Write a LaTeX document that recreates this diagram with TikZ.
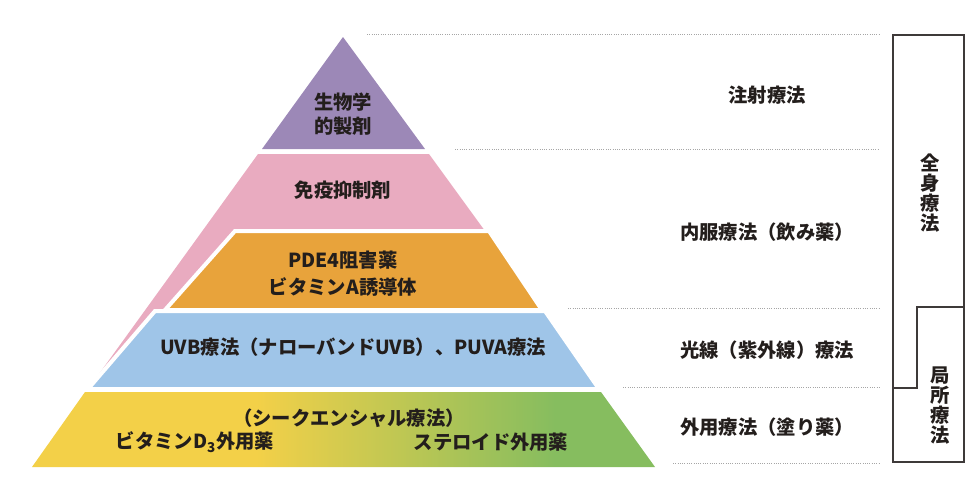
\documentclass[tikz,border=0pt]{standalone}
\usepackage{fontspec}
\setmainfont{Noto Sans CJK JP}
\usepackage{xcolor}

\definecolor{bandpurple}{RGB}{156,136,183}
\definecolor{bandpink}{RGB}{233,171,192}
\definecolor{bandorange}{RGB}{232,163,59}
\definecolor{bandblue}{RGB}{159,197,232}
\definecolor{bandyellow}{RGB}{243,208,72}
\definecolor{bandgreen}{RGB}{134,189,95}
\definecolor{inkgray}{RGB}{35,30,28}
\definecolor{boxgray}{RGB}{62,58,57}
\pgfdeclarehorizontalshading{bandshade}{100bp}{color(0bp)=(bandyellow); color(43bp)=(bandyellow); color(67bp)=(bandgreen); color(100bp)=(bandgreen)}

\begin{document}
\begin{tikzpicture}[x=0.02cm,y=-0.02cm,
    label node/.style={inner sep=0pt,align=center,text=inkgray,font=\fontsize{11}{13.6}\selectfont\bfseries},
    column node/.style={label node,font=\fontsize{11}{11.4}\selectfont\bfseries},
    band/.style={draw=white,line width=0.08cm,line join=miter},
    guide/.style={draw=gray!70,line width=0.4pt,dash pattern=on 0.5pt off 0.8pt},
    frame/.style={draw=boxgray,line width=0.9pt}]

            \useasboundingbox (0,0) rectangle (979,478);

            \fill[bandpurple] (343,37) -- (425,149) -- (262,149) -- cycle;
            \fill[bandpink] (258,154) -- (429,154) -- (485,231) -- (239,231) -- (91,385) -- cycle;
            \path[band,fill=bandorange] (235,231) -- (489,231) -- (542,310) -- (165,310) -- cycle;
            \path[band,fill=bandblue] (155,311) -- (545,311) -- (599,389) -- (88,389) -- cycle;
            \shade[shading=bandshade] (85,392) -- (601,392) -- (655,467) -- (32,467) -- cycle;

            \node[label node] (bio) at (343,114) {生物学\\的製剤};
            \node[label node] (immuno) at (343,190) {免疫抑制剤};
            \node[label node] (pde) at (343,274) {PDE4阻害薬\\[0.06cm]ビタミンA誘導体};
            \node[label node] (uvb) at (353,347) {UVB療法（ナローバンドUVB）、PUVA療法};
            \node[label node] (seq) at (349,418) {（シークエンシャル療法）};
            \node[label node] (vitd) at (195,442) {ビタミンD\textsubscript{3}外用薬};
            \node[label node] (steroid) at (491,442) {ステロイド外用薬};

            \node[label node] (inj) at (767,95) {注射療法};
            \node[label node] (oral) at (767,232) {内服療法（飲み薬）};
            \node[label node] (photo) at (767,350) {光線（紫外線）療法};
            \node[label node] (topical) at (767,427) {外用療法（塗り薬）};

            \path[guide] (367,34) -- (879,34)
                (455,149) -- (879,149)
                (568,308) -- (879,308)
                (623,387) -- (879,387)
                (673,463) -- (879,463);

            \draw[frame] (893,35) rectangle (964,462);
            \draw[frame] (893,388) -- (917,388) -- (917,307) -- (964,307);
            \node[column node] (systemic) at (930,193) {全\\身\\療\\法};
            \node[column node] (local) at (940,406) {局\\所\\療\\法};
        \end{tikzpicture}
\end{document}
